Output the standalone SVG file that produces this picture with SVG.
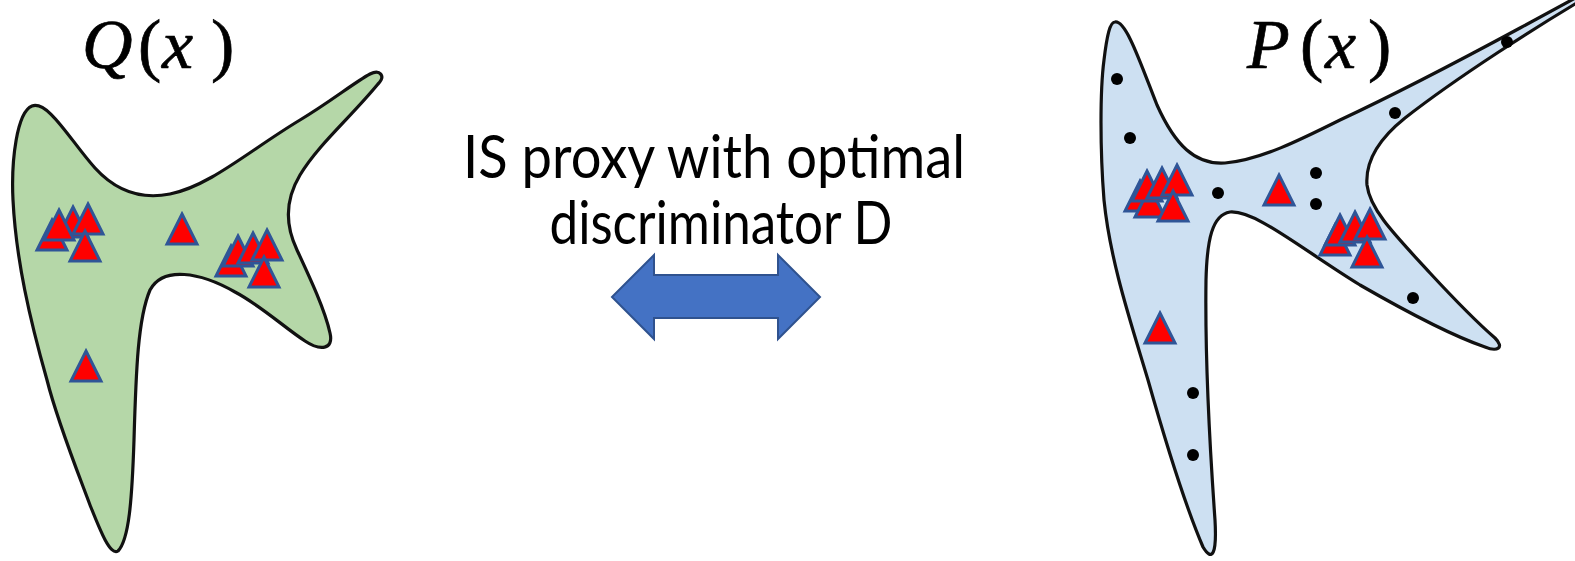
<svg xmlns="http://www.w3.org/2000/svg" xmlns:xlink="http://www.w3.org/1999/xlink" width="1575" height="561" viewBox="0 0 1575 561">
  <style>
    .blob { stroke: #111; stroke-width: 3.2; stroke-linejoin: round; }
    .q { fill: #B5D7A8; }
    .p { fill: #CDE0F2; }
    .sample { fill: #FF0000; stroke: #2F5597; stroke-width: 3; stroke-linejoin: miter; }
    .dot { fill: #000; }
    .math { font-family: "Liberation Serif", "DejaVu Serif", serif; font-size: 70px; fill: #000; stroke: #000; stroke-width: 0.7; }
    .math .it { font-style: italic; }
    .caption { font-family: Lato, "Liberation Sans", sans-serif; font-size: 60px; fill: #000; text-anchor: middle; }
    .arrow { fill: #4472C4; stroke: #2F528F; stroke-width: 2; }
  </style>
  <defs>
    <!-- sample marker: apex at the origin -->
    <path id="tri" d="M0,2 L15,32 L-15,32 Z"/>
  </defs>

  <rect width="1575" height="561" fill="#fff"/>

  <!-- Q(x) distribution -->
  <g id="node-q">
    <path class="blob q" d="M32,106
      C48,100 70,140 95,168
      C115,190 140,200 170,194
      C210,186 250,150 300,120
      C330,102 355,82 370,74
      C380,69 386,76 378,84
      C350,118 318,145 300,175
      C285,200 285,225 297,250
      C310,278 325,310 330,333
      C334,350 320,351 305,341
      C285,328 260,305 235,292
      C200,272 163,266 150,290
      C138,318 136,370 134,440
      C132,500 129,540 118,551
      C110,556 100,530 90,505
      C75,465 57,420 47,380
      C30,320 16,260 13,200
      C11,160 17,112 32,106 Z"/>
    <g class="sample">
      <use xlink:href="#tri" x="52" y="218"/>
      <use xlink:href="#tri" x="73" y="205"/>
      <use xlink:href="#tri" x="59" y="208"/>
      <use xlink:href="#tri" x="88" y="202"/>
      <use xlink:href="#tri" x="85" y="229"/>
      <use xlink:href="#tri" x="182" y="212"/>
      <use xlink:href="#tri" x="231" y="244"/>
      <use xlink:href="#tri" x="238" y="234"/>
      <use xlink:href="#tri" x="253" y="231"/>
      <use xlink:href="#tri" x="267" y="228"/>
      <use xlink:href="#tri" x="264" y="255"/>
      <use xlink:href="#tri" x="86" y="349"/>
    </g>
    <text class="math" y="68"><tspan class="it" x="82">Q</tspan><tspan x="138">(</tspan><tspan class="it" x="162">x</tspan><tspan x="211">)</tspan></text>
  </g>

  <!-- P(x) distribution -->
  <g id="node-p">
    <path class="blob p" d="M1115,22
      C1126,20 1140,62 1157,105
      C1175,145 1195,165 1225,163
      C1260,160 1300,140 1340,120
      C1400,92 1470,55 1520,28
      L1590,-10 L1590,0 L1575,4
      C1540,25 1460,75 1405,118
      C1380,138 1365,160 1367,185
      C1370,210 1395,235 1430,273
      C1455,300 1480,325 1495,338
      C1505,348 1497,352 1485,347
      C1450,335 1400,308 1360,285
      C1300,248 1255,210 1230,212
      C1212,215 1207,240 1206,280
      C1205,350 1210,450 1215,520
      C1217,555 1212,562 1203,547
      C1185,505 1165,440 1148,380
      C1130,320 1110,260 1104,200
      C1100,150 1100,90 1104,60
      C1107,35 1110,22 1115,22 Z"/>
    <g class="dot">
      <circle cx="1117" cy="79" r="6"/>
      <circle cx="1130" cy="138" r="6"/>
      <circle cx="1218" cy="193" r="6"/>
      <circle cx="1316" cy="173" r="6"/>
      <circle cx="1316" cy="204" r="6"/>
      <circle cx="1395" cy="113" r="6"/>
      <circle cx="1507" cy="42" r="6"/>
      <circle cx="1413" cy="298" r="6"/>
      <circle cx="1193" cy="393" r="6"/>
      <circle cx="1193" cy="455" r="6"/>
    </g>
    <g class="sample">
      <use xlink:href="#tri" x="1140" y="179"/>
      <use xlink:href="#tri" x="1150" y="185"/>
      <use xlink:href="#tri" x="1147" y="169"/>
      <use xlink:href="#tri" x="1162" y="166"/>
      <use xlink:href="#tri" x="1177" y="163"/>
      <use xlink:href="#tri" x="1173" y="189"/>
      <use xlink:href="#tri" x="1279" y="173"/>
      <use xlink:href="#tri" x="1335" y="223"/>
      <use xlink:href="#tri" x="1340" y="213"/>
      <use xlink:href="#tri" x="1355" y="210"/>
      <use xlink:href="#tri" x="1370" y="207"/>
      <use xlink:href="#tri" x="1367" y="235"/>
      <use xlink:href="#tri" x="1160" y="311"/>
    </g>
    <text class="math" y="68"><tspan class="it" x="1247">P</tspan><tspan x="1300">(</tspan><tspan class="it" x="1325">x</tspan><tspan x="1368">)</tspan></text>
  </g>

  <!-- caption -->
  <g id="node-caption">
    <text class="caption" x="714" y="178" textLength="502" lengthAdjust="spacingAndGlyphs">IS proxy with optimal</text>
    <text class="caption" x="721" y="244" textLength="343" lengthAdjust="spacingAndGlyphs">discriminator D</text>
  </g>

  <!-- connector: two-way block arrow -->
  <g id="connectors">
    <path class="arrow" d="M612,297 L654,255 L654,275 L778,275 L778,255 L820,297 L778,339 L778,318 L654,318 L654,339 Z"/>
  </g>
</svg>
